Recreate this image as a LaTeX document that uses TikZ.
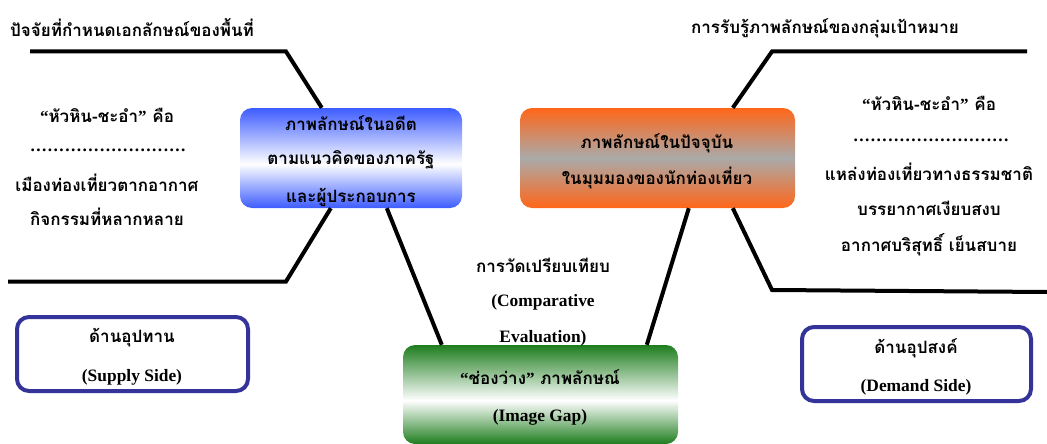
\documentclass[tikz,border=0pt]{standalone}
\usepackage{fontspec}
\setmainfont{Liberation Serif}
\newfontfamily\thai[Script=Thai]{Loma}
\newfontfamily\dotfont[LetterSpace=8.3]{Liberation Serif}
\newcommand{\myopenq}{{\rmfamily “}}
\newcommand{\mycloseq}{{\rmfamily ”}}
\usetikzlibrary{calc}
\definecolor{bl}{RGB}{61,92,255}
\definecolor{og}{RGB}{255,102,25}
\definecolor{gy}{RGB}{170,170,170}
\definecolor{gr}{RGB}{30,125,30}
\definecolor{sidec}{RGB}{51,51,153}
\pgfdeclareverticalshading{blueshade}{100bp}{color(0bp)=(bl); color(25bp)=(bl); color(47bp)=(white); color(75bp)=(bl); color(100bp)=(bl)}
\pgfdeclareverticalshading{orangeshade}{100bp}{color(0bp)=(og); color(25bp)=(og); color(50bp)=(gy); color(75bp)=(og); color(100bp)=(og)}
\pgfdeclareverticalshading{greenshade}{100bp}{color(0bp)=(gr); color(25bp)=(gr); color(47bp)=(white); color(75bp)=(gr); color(100bp)=(gr)}
\tikzset{
  th/.style={font=\thai\bfseries\fontsize{17}{30}\selectfont, align=center, inner sep=0pt},
  en/.style={font=\bfseries\fontsize{17.4}{30}\selectfont, align=center, inner sep=0pt},
  dots/.style={font=\dotfont\bfseries\fontsize{17.4}{30}\selectfont, inner sep=0pt},
  mainbox/.style={rounded corners=12pt, minimum height=100pt, inner sep=0pt, draw=none},
  sidebox/.style={draw=sidec, line width=4pt, rounded corners=12pt, inner sep=0pt},
  conn/.style={line width=4pt, line join=miter},
}
\begin{document}
\begin{tikzpicture}[x=1pt,y=-1pt]
\useasboundingbox (0,0) rectangle (1047,444);
% main boxes
\node[mainbox, shading=blueshade, minimum width=222pt] (past) at (351,158) {};
\node[mainbox, shading=orangeshade, minimum width=275pt] (now) at (657.5,158) {};
\node[mainbox, shading=greenshade, minimum width=275pt, minimum height=99pt] (gap) at (540.5,394.5) {};
\node[th] at (351,123) {ภาพลักษณ์ในอดีต};
\node[th] at (351,160) {ตามแนวคิดของภาครัฐ};
\node[th] at (351,197) {และผู้ประกอบการ};
\node[th] at (657,143) {ภาพลักษณ์ในปัจจุบัน};
\node[th] at (657,178) {ในมุมมองของนักท่องเที่ยว};
\node[th] at (540,377) {\myopenq ช่องว่าง\mycloseq\ ภาพลักษณ์};
\node[en] at (540,417) {(Image Gap)};
% side boxes
\node[sidebox, minimum width=231pt, minimum height=74pt] (supply) at (132.5,354) {};
\node[th] at (132,338) {ด้านอุปทาน};
\node[en] at (132,377) {(Supply Side)};
\node[sidebox, minimum width=229pt, minimum height=74pt] (demand) at (916.5,364) {};
\node[th] at (916,348) {ด้านอุปสงค์};
\node[en] at (916,387) {(Demand Side)};
% titles
\node[th, anchor=west] (ltitle) at (10,28) {ปัจจัยที่กำหนดเอกลักษณ์ของพื้นที่};
\node[th] (rtitle) at (825,28) {การรับรู้ภาพลักษณ์ของกลุ่มเป้าหมาย};
% left text
\node[th] (l1) at (107,115) {\myopenq หัวหิน-ชะอำ\mycloseq\ คือ};
\node[dots] (l2) at (108,150) {...........................};
\node[th] (l3) at (107,183) {เมืองท่องเที่ยวตากอากาศ};
\node[th] (l4) at (107,217) {กิจกรรมที่หลากหลาย};
% right text
\node[th] (r1) at (929,103) {\myopenq หัวหิน-ชะอำ\mycloseq\ คือ};
\node[dots] (r2) at (931,140) {...........................};
\node[th] (r3) at (929,172) {แหล่งท่องเที่ยวทางธรรมชาติ};
\node[th] (r4) at (929,208) {บรรยากาศเงียบสงบ};
\node[th] (r5) at (929,245) {อากาศบริสุทธิ์ เย็นสบาย};
% middle text
\node[th] (m1) at (543,265) {การวัดเปรียบเทียบ};
\node[en] (m2) at (543,302) {(Comparative};
\node[en] (m3) at (543,338) {Evaluation)};
% connector coordinates
\coordinate (lt0) at (30,51.5);
\coordinate (lt1) at (286,51.5);
\coordinate (lb0) at (8,281.5);
\coordinate (lb1) at (286,281.5);
\coordinate (rt0) at (1027,51.5);
\coordinate (rt1) at (772,51.5);
\coordinate (rb0) at (1047,292);
\coordinate (rb1) at (772,290);
\draw[conn] (lt0) -- (lt1) -- ($(past.north west)+(82,0)$);
\draw[conn] (lb0) -- (lb1) -- ($(past.south west)+(91,0)$);
\draw[conn] ($(past.south west)+(147,0)$) -- ($(gap.north west)+(39,0)$);
\draw[conn] (rt0) -- (rt1) -- ($(now.north west)+(213,0)$);
\draw[conn] (rb0) -- (rb1) -- ($(now.south west)+(213,0)$);
\draw[conn] ($(now.south west)+(169,0)$) -- ($(gap.north west)+(244,0)$);
\end{tikzpicture}
\end{document}
